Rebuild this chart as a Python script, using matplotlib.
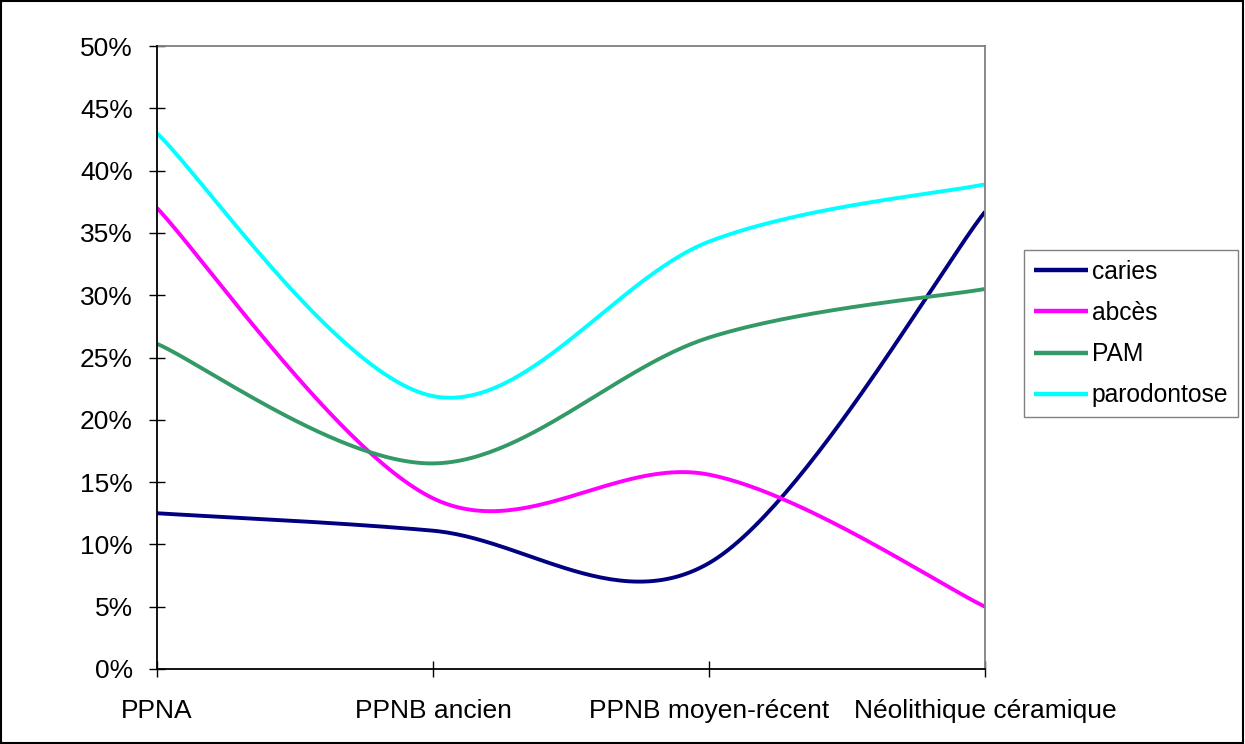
import numpy as np
import matplotlib
matplotlib.use("Agg")
import matplotlib.pyplot as plt
from matplotlib.patches import Rectangle
from matplotlib.ticker import FuncFormatter, MultipleLocator

plt.rcParams["font.family"] = ["Liberation Sans", "DejaVu Sans"]

periods = ["PPNA", "PPNB ancien", "PPNB moyen-récent", "Néolithique céramique"]
caries = [12.5, 11.1, 8.5, 36.7]
abces = [37.0, 13.7, 15.6, 5.0]
pam = [26.1, 16.5, 26.6, 30.5]
parodontose = [43.0, 21.9, 34.3, 38.9]

series = [
    ("caries", caries, "#000080"),
    ("abcès", abces, "#FF00FF"),
    ("PAM", pam, "#339966"),
    ("parodontose", parodontose, "#00FFFF"),
]


def smooth(xs, ys, sx=276.0, sy=12.46, n=60):
    # Excel-like smoothed line: cubic Bezier with Catmull-Rom control points,
    # computed in (approximate) pixel space
    px = np.asarray(xs, float) * sx
    py = np.asarray(ys, float) * sy
    P = np.column_stack([px, py])
    P = np.vstack([P[0], P, P[-1]])
    out = []
    t = np.linspace(0, 1, n)[:, None]
    for i in range(1, len(P) - 2):
        p0, p3 = P[i], P[i + 1]
        c1 = p0 + (P[i + 1] - P[i - 1]) / 6.0
        c2 = p3 - (P[i + 2] - P[i]) / 6.0
        seg = ((1 - t) ** 3) * p0 + 3 * ((1 - t) ** 2) * t * c1 \
            + 3 * (1 - t) * t ** 2 * c2 + t ** 3 * p3
        out.append(seg if i == 1 else seg[1:])
    out = np.vstack(out)
    return out[:, 0] / sx, out[:, 1] / sy


fig = plt.figure(figsize=(12.45, 7.44), dpi=100)
ax = fig.add_axes([157 / 1245, 1 - 669 / 744, (985 - 157) / 1245, (669 - 46) / 744])

x = np.arange(len(periods))
for name, vals, col in series:
    sx, sy = smooth(x, vals)
    ax.plot(sx, sy, color=col, lw=2.8, label=name, solid_capstyle="butt")

ax.set_xlim(0, 3)
ax.set_ylim(0, 50)
ax.yaxis.set_major_locator(MultipleLocator(5))
ax.yaxis.set_major_formatter(FuncFormatter(lambda v, p: f"{v:.0f}%"))
ax.set_xticks(x)
ax.set_xticklabels(periods)
ax.tick_params(axis="both", direction="inout", length=11, width=1, color="black",
               labelsize=19)
ax.tick_params(axis="y", pad=12)
ax.tick_params(axis="x", pad=16)

for s in ["left", "bottom"]:
    ax.spines[s].set_color("black")
    ax.spines[s].set_linewidth(1.3)
for s in ["top", "right"]:
    ax.spines[s].set_color("#808080")
    ax.spines[s].set_linewidth(1.3)
ax.spines["left"].set_zorder(5)
ax.spines["bottom"].set_zorder(5)

leg = ax.legend(loc="upper left", bbox_to_anchor=(1024 / 1245, 1 - 250 / 744),
                bbox_transform=fig.transFigure, fontsize=17.7, frameon=True,
                fancybox=False, edgecolor="#606060", borderpad=0.4,
                handlelength=2.2, handletextpad=0.16, labelspacing=0.7,
                borderaxespad=0)
leg.get_frame().set_linewidth(1.0)
for h in leg.get_lines():
    h.set_linewidth(3.2)

fig.patches.append(Rectangle((0.001, 0.002), 0.997, 0.996, transform=fig.transFigure,
                             fill=False, edgecolor="black", lw=1.5))

fig.savefig("out.png", dpi=100)
